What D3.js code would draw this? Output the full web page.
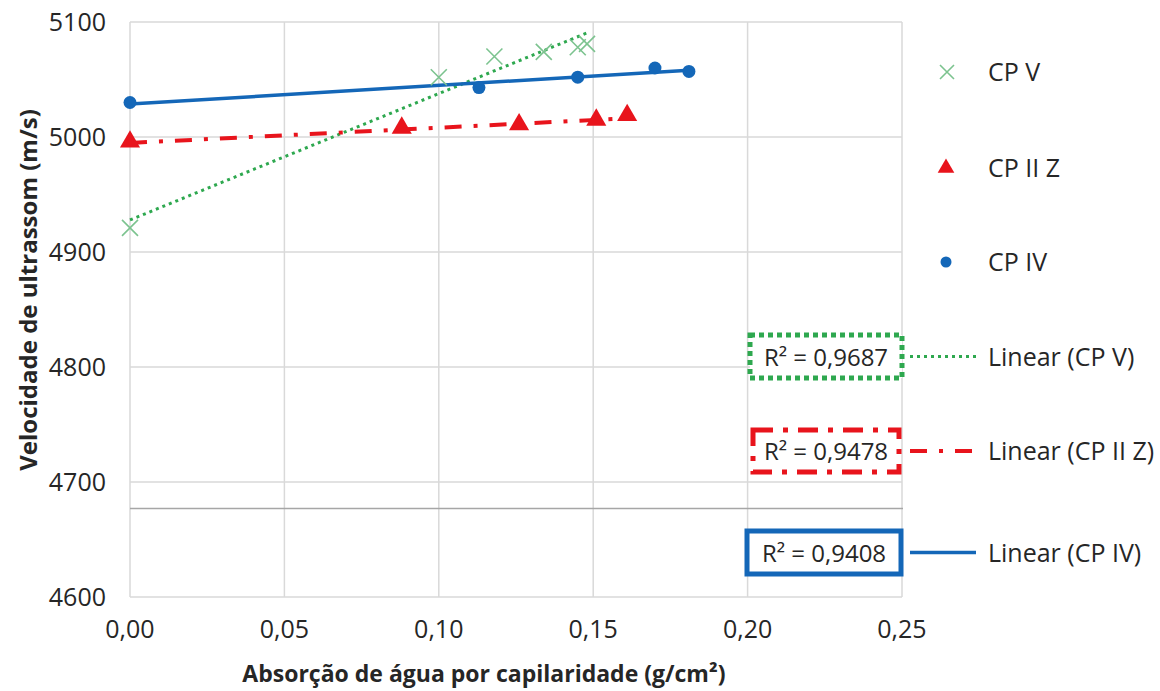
<!DOCTYPE html>
<html>
<head>
<meta charset="utf-8">
<script src="https://cdn.jsdelivr.net/npm/d3@7"></script>
<style>
  body { margin: 0; background: #fff; }
  text { font-family: 'Open Sans', 'Noto Sans', sans-serif; fill: #262626; }
</style>
</head>
<body>
<svg id="chart" width="1160" height="691"></svg>
<script>
// data
const cpV_x = [0.000, 0.100, 0.118, 0.134, 0.145, 0.148];
const cpV_y = [4921, 5052, 5070, 5074, 5078, 5081];
const cpIIZ_x = [0.000, 0.088, 0.126, 0.151, 0.161];
const cpIIZ_y = [4995, 5007, 5010, 5014, 5018];
const cpIV_x = [0.000, 0.113, 0.145, 0.170, 0.181];
const cpIV_y = [5030, 5043, 5052, 5060, 5057];
const xTicks = [0, 0.05, 0.10, 0.15, 0.20, 0.25];
const yTicks = [4600, 4700, 4800, 4900, 5000, 5100];
const rSquared = ['0,9687', '0,9478', '0,9408'];
const names = ['CP V', 'CP II Z', 'CP IV'];

const svg = d3.select('#chart');
const margin = { left: 130, top: 22, right: 258, bottom: 94 };
const width = 1160, height = 691;

const x = d3.scaleLinear().domain([0, 0.25]).range([margin.left, width - margin.right]);
const y = d3.scaleLinear().domain([4600, 5100]).range([height - margin.bottom, margin.top]);

const fmtX = d => d3.format('.2f')(d).replace('.', ',');

// gridlines
svg.append('g').selectAll('line.v').data(xTicks).enter().append('line')
  .attr('x1', d => x(d)).attr('x2', d => x(d))
  .attr('y1', y(4600)).attr('y2', y(5100))
  .attr('stroke', '#d9d9d9').attr('stroke-width', 1.5);
svg.append('g').selectAll('line.h').data(yTicks).enter().append('line')
  .attr('x1', x(0)).attr('x2', x(0.25))
  .attr('y1', d => y(d)).attr('y2', d => y(d))
  .attr('stroke', '#d9d9d9').attr('stroke-width', 1.5);
// stray line across the lower part of the original
svg.append('line')
  .attr('x1', x(0)).attr('x2', x(0.25) + 1)
  .attr('y1', y(4677)).attr('y2', y(4677))
  .attr('stroke', '#a6a6a6').attr('stroke-width', 1.5);

// tick labels
svg.append('g').selectAll('text').data(xTicks).enter().append('text')
  .attr('x', d => x(d)).attr('y', y(4600) + 41)
  .attr('text-anchor', 'middle').attr('font-size', 25)
  .text(fmtX);
svg.append('g').selectAll('text').data(yTicks).enter().append('text')
  .attr('x', x(0) - 24).attr('y', d => y(d) + 9)
  .attr('text-anchor', 'end').attr('font-size', 25)
  .text(d => d);

// axis titles
svg.append('text')
  .attr('x', x(0.1146)).attr('y', 682)
  .attr('text-anchor', 'middle').attr('font-size', 23).attr('font-weight', 'bold')
  .text('Absorção de água por capilaridade (g/cm²)');
svg.append('text')
  .attr('transform', `translate(37,${y(4867)}) rotate(-90)`)
  .attr('text-anchor', 'middle').attr('font-size', 24).attr('font-weight', 'bold')
  .text('Velocidade de ultrassom (m/s)');

// linear fit
function fit(xs, ys) {
  const mx = d3.mean(xs), my = d3.mean(ys);
  let sxy = 0, sxx = 0;
  xs.forEach((v, i) => { sxy += (v - mx) * (ys[i] - my); sxx += (v - mx) * (v - mx); });
  const b = sxy / sxx, a = my - b * mx;
  const x0 = d3.min(xs), x1 = d3.max(xs);
  return [[x0, a + b * x0], [x1, a + b * x1]];
}

const green = '#2ea84f', greenMark = '#7cc38f', red = '#e8141c', blue = '#1467b8';
const line = d3.line().x(d => x(d[0])).y(d => y(d[1]));

const series = [
  { xs: cpV_x, ys: cpV_y, color: green, dash: '3,4', lw: 3 },
  { xs: cpIIZ_x, ys: cpIIZ_y, color: red, dash: '17,12,4,12', lw: 4 },
  { xs: cpIV_x, ys: cpIV_y, color: blue, dash: null, lw: 3.5 }
];

series.forEach(s => {
  svg.append('path').datum(fit(s.xs, s.ys))
    .attr('d', line).attr('fill', 'none')
    .attr('stroke', s.color).attr('stroke-width', s.lw)
    .attr('stroke-dasharray', s.dash);
});

// markers
const cross = (g, cx, cy, r) => {
  g.append('path')
    .attr('d', `M${cx - r},${cy - r}L${cx + r},${cy + r}M${cx - r},${cy + r}L${cx + r},${cy - r}`)
    .attr('stroke', greenMark).attr('stroke-width', 1.6).attr('fill', 'none');
};
const tri = d3.symbol().type(d3.symbolTriangle).size(175);

const gm = svg.append('g');
cpV_x.forEach((v, i) => cross(gm, x(v), y(cpV_y[i]), 8));
gm.selectAll('path.t').data(cpIIZ_x).enter().append('path')
  .attr('d', tri).attr('fill', red)
  .attr('transform', (d, i) => `translate(${x(d)},${y(cpIIZ_y[i]) - 1})`);
gm.selectAll('circle').data(cpIV_x).enter().append('circle')
  .attr('cx', d => x(d)).attr('cy', (d, i) => y(cpIV_y[i]))
  .attr('r', 6.5).attr('fill', blue);

// legend: markers
const lg = svg.append('g');
const legY = [72, 168, 262];
cross(lg, 947, legY[0], 7);
lg.append('path').attr('d', d3.symbol().type(d3.symbolTriangle).size(120))
  .attr('transform', `translate(946,${legY[1]})`).attr('fill', red);
lg.append('circle').attr('cx', 946).attr('cy', legY[2]).attr('r', 5.5).attr('fill', blue);
names.forEach((n, i) => {
  lg.append('text').attr('x', 988).attr('y', legY[i] + 9).attr('font-size', 25).text(n);
});

// legend: trendlines with R² boxes
const boxes = [
  { x0: 750, x1: 902, y0: 335, y1: 378, color: green, dash: '5,4', lw: 5 },
  { x0: 753, x1: 899, y0: 430, y1: 472, color: red, dash: '20,10,5,10', lw: 5 },
  { x0: 747, x1: 901, y0: 531, y1: 574, color: blue, dash: null, lw: 5 }
];
boxes.forEach((b, i) => {
  const cy = (b.y0 + b.y1) / 2;
  lg.append('rect').attr('x', b.x0).attr('y', b.y0)
    .attr('width', b.x1 - b.x0).attr('height', b.y1 - b.y0)
    .attr('fill', '#fff').attr('stroke', b.color).attr('stroke-width', b.lw)
    .attr('stroke-dasharray', b.dash);
  lg.append('text').attr('x', (b.x0 + b.x1) / 2).attr('y', cy + 9)
    .attr('text-anchor', 'middle').attr('font-size', 24)
    .text('R² = ' + rSquared[i]);
  lg.append('line').attr('x1', 910).attr('x2', 976).attr('y1', cy).attr('y2', cy)
    .attr('stroke', series[i].color).attr('stroke-width', series[i].lw)
    .attr('stroke-dasharray', series[i].dash);
  lg.append('text').attr('x', 988).attr('y', cy + 9).attr('font-size', 25)
    .text('Linear (' + names[i] + ')');
});
</script>
</body>
</html>
